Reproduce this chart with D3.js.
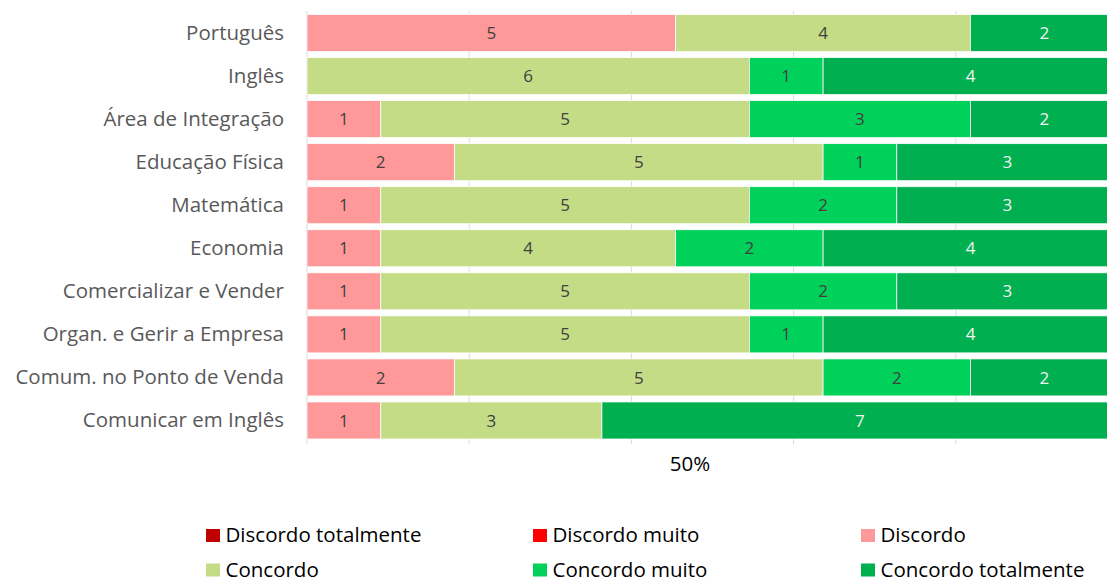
<!DOCTYPE html>
<html>
<head>
<meta charset="utf-8">
<script src="https://cdn.jsdelivr.net/npm/d3@7"></script>
<style>
  html, body { margin: 0; padding: 0; background: #fff; }
  svg { display: block; }
  text { font-family: "Open Sans", Lato, sans-serif; }
</style>
</head>
<body>
<svg id="chart" width="1107" height="582"></svg>
<script>
const categories = ["Português", "Inglês", "Área de Integração", "Educação Física", "Matemática",
  "Economia", "Comercializar e Vender", "Organ. e Gerir a Empresa", "Comum. no Ponto de Venda", "Comunicar em Inglês"];
const seriesNames = ["Discordo totalmente", "Discordo muito", "Discordo", "Concordo", "Concordo muito", "Concordo totalmente"];
const discordoTotalmente = [0, 0, 0, 0, 0, 0, 0, 0, 0, 0];
const discordoMuito      = [0, 0, 0, 0, 0, 0, 0, 0, 0, 0];
const discordo           = [5, 0, 1, 2, 1, 1, 1, 1, 2, 1];
const concordo           = [4, 6, 5, 5, 5, 4, 5, 5, 5, 3];
const concordoMuito      = [0, 1, 3, 1, 2, 2, 2, 1, 2, 0];
const concordoTotalmente = [2, 4, 2, 3, 3, 4, 3, 4, 2, 7];
const axisTickLabels = ["50%"];

const seriesValues = [discordoTotalmente, discordoMuito, discordo, concordo, concordoMuito, concordoTotalmente];
const colors = ["#C00000", "#FF0000", "#FF9999", "#C4DC86", "#00D15A", "#00B050"];
const labelColors = ["#ffffff", "#ffffff", "#404040", "#404040", "#404040", "#f2f2f2"];

const rows = categories.map((c, i) => {
  const o = { cat: c };
  seriesNames.forEach((s, j) => o[s] = seriesValues[j][i]);
  return o;
});
const stacked = d3.stack().keys(seriesNames).offset(d3.stackOffsetExpand)(rows);

const svg = d3.select("#chart");
const x = d3.scaleLinear().domain([0, 1]).range([307, 1118]);
const y = d3.scaleBand().domain(categories).range([11.5, 442]).paddingInner(0.14).paddingOuter(0.07);

// gridlines
svg.append("g").selectAll("line").data(d3.range(0, 1.01, 0.2)).join("line")
  .attr("x1", d => x(d)).attr("x2", d => x(d))
  .attr("y1", 11).attr("y2", 444)
  .attr("stroke", "#d9d9d9").attr("stroke-width", 1);

const g = svg.append("g");
stacked.forEach((layer, j) => {
  const lg = g.append("g");
  lg.selectAll("rect").data(layer.filter(d => d[1] - d[0] > 0)).join("rect")
    .attr("x", d => x(d[0])).attr("width", d => x(d[1]) - x(d[0]))
    .attr("y", d => y(d.data.cat)).attr("height", y.bandwidth())
    .attr("fill", colors[j]).attr("stroke", "#ffffff").attr("stroke-width", 0.75);
  lg.selectAll("text").data(layer.filter(d => d[1] - d[0] > 0)).join("text")
    .attr("x", d => (x(d[0]) + x(d[1])) / 2)
    .attr("y", d => y(d.data.cat) + y.bandwidth() / 2)
    .attr("dy", "0.36em").attr("text-anchor", "middle")
    .attr("font-size", 17).attr("fill", labelColors[j])
    .text(d => d.data[seriesNames[j]]);
});

// category axis
const yAxis = d3.axisLeft(y).tickSize(0).tickPadding(0);
const ya = svg.append("g").attr("transform", "translate(284,0)").call(yAxis);
ya.select(".domain").remove();
ya.selectAll("text").attr("font-size", 20.5).attr("fill", "#595959").attr("dy", "0.34em")
  .style("font-family", "'Open Sans', sans-serif");

// x label
svg.append("text").attr("x", 690).attr("y", 471).attr("text-anchor", "middle")
  .attr("font-size", 20.5).attr("fill", "#000").text(axisTickLabels[0]);

// legend
const legX = [206, 533, 861];
const legY = [542, 576.5];
const leg = svg.append("g");
seriesNames.forEach((s, i) => {
  const cx = legX[i % 3], cy = legY[Math.floor(i / 3)];
  leg.append("rect").attr("x", cx).attr("y", cy - 13).attr("width", 14).attr("height", 13).attr("fill", colors[i]);
  leg.append("text").attr("x", cx + 19.5).attr("y", cy).attr("font-size", 20.5).attr("fill", "#000").text(s);
});
</script>
</body>
</html>
